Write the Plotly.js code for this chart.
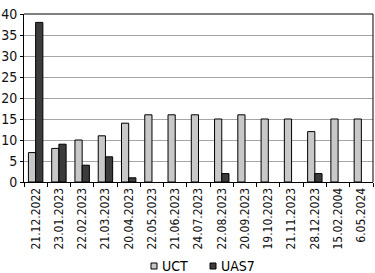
<!DOCTYPE html>
<html><head><meta charset="utf-8">
<script src="https://cdn.plot.ly/plotly-3.0.1.min.js"></script>
<style>body{margin:0;padding:0;background:#fff}#c{width:375px;height:273px}</style>
</head><body><div id="c"></div>
<script>
const dates = ["21.12.2022","23.01.2023","22.02.2023","21.03.2023","20.04.2023","22.05.2023","21.06.2023","24.07.2023","22.08.2023","20.09.2023","19.10.2023","21.11.2023","28.12.2023","15.02.2004","6.05.2024"];
const uct = [7,8,10,11,14,16,16,16,15,16,15,15,12,15,15];
const uas7 = [38,9,4,6,1,0,0,0,2,0,0,0,2,0,0];
const seriesNames = ["UCT","UAS7"];
const seriesColors = ['#c8c8c8','#3c3c3c'];
const font = "DejaVu Sans Condensed, Liberation Sans Narrow, sans-serif";
const nz = a => a.map(v => v === 0 ? null : v);
const W = 375, H = 273, M = {l:24, r:2, t:14, b:91};
const pw = W - M.l - M.r, ph = H - M.t - M.b;
const px = x => (x - M.l) / pw, py = y => (H - M.b - y) / ph;
const data = [
 {type:'bar', name:seriesNames[0], x:dates, y:nz(uct), marker:{color:seriesColors[0], line:{color:'#000', width:1}}},
 {type:'bar', name:seriesNames[1], x:dates, y:nz(uas7), marker:{color:seriesColors[1], line:{color:'#000', width:1}}}
];
// custom legend (small squares, tight text like the reference)
const legX = [151, 210], legY = 266, sq = 6;
const shapes = [
  {type:'line', xref:'paper', yref:'paper', x0:0, x1:1, y0:1, y1:1, line:{color:'#000', width:1}},
  {type:'line', xref:'paper', yref:'paper', x0:1, x1:1, y0:0, y1:1, line:{color:'#000', width:1}}
];
const annotations = [];
seriesNames.forEach((n, i) => {
  shapes.push({type:'rect', xref:'paper', yref:'paper', x0:px(legX[i]), x1:px(legX[i]+sq), y0:py(legY-sq/2), y1:py(legY+sq/2),
    fillcolor:seriesColors[i], line:{color:'#000', width:1}});
  annotations.push({xref:'paper', yref:'paper', x:px(legX[i]+sq+3), y:py(legY), xanchor:'left', yanchor:'middle',
    text:n, showarrow:false, font:{size:14, color:'#000'}});
});
const layout = {
 width:W, height:H,
 margin:M,
 paper_bgcolor:'#fff', plot_bgcolor:'#fff',
 font:{family:font, size:13, color:'#111'},
 barmode:'group', bargap:0.38, bargroupgap:0,
 showlegend:false,
 xaxis:{type:'category', tickangle:-90, showline:true, linecolor:'#000', mirror:false, automargin:false,
   ticks:'outside', tickson:'boundaries', ticklen:4, tickcolor:'#000', showgrid:false, tickfont:{size:12}},
 yaxis:{range:[0,40], dtick:5, showline:true, linecolor:'#000', gridcolor:'#a6a6a6', gridwidth:1, automargin:false,
   ticks:'outside', ticklen:3, tickcolor:'#000', tickfont:{size:14}, zeroline:false},
 shapes, annotations
};
Plotly.newPlot('c', data, layout, {displayModeBar:false, staticPlot:true});
</script></body></html>
